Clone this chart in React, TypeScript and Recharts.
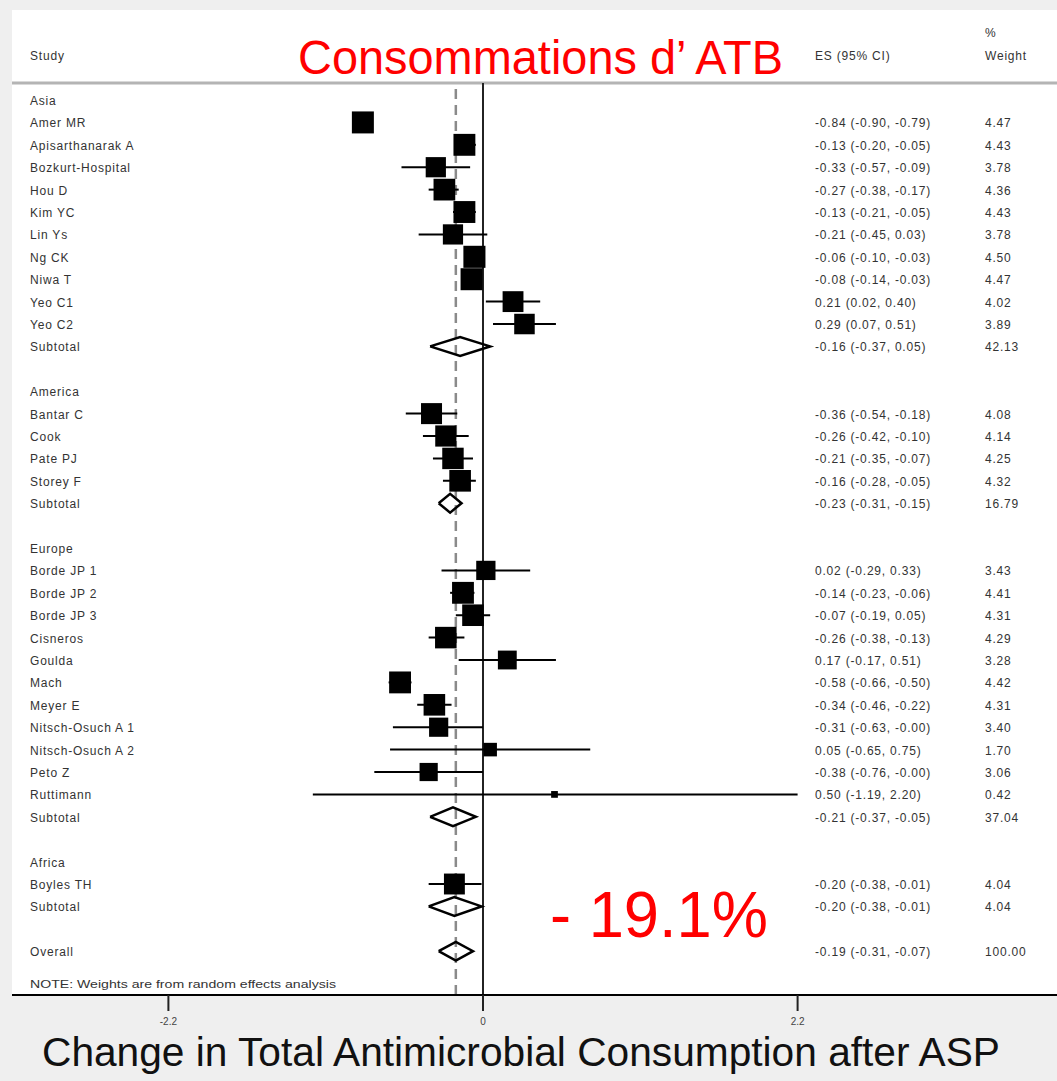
import React from 'react';
import { ComposedChart, Scatter, XAxis, YAxis, ErrorBar, ReferenceLine } from 'recharts';

// ---- data ----
const regions = ['Asia', 'America', 'Europe', 'Africa'];

const studyNames = [
  'Amer MR', 'Apisarthanarak A', 'Bozkurt-Hospital', 'Hou D', 'Kim YC', 'Lin Ys', 'Ng CK', 'Niwa T', 'Yeo C1', 'Yeo C2',
  'Bantar C', 'Cook', 'Pate PJ', 'Storey F',
  'Borde JP 1', 'Borde JP 2', 'Borde JP 3', 'Cisneros', 'Goulda', 'Mach', 'Meyer E', 'Nitsch-Osuch A 1', 'Nitsch-Osuch A 2', 'Peto Z', 'Ruttimann',
  'Boyles TH',
];
const studyRegion = [0, 0, 0, 0, 0, 0, 0, 0, 0, 0, 1, 1, 1, 1, 2, 2, 2, 2, 2, 2, 2, 2, 2, 2, 2, 3];
const studyEs = [-0.84, -0.13, -0.33, -0.27, -0.13, -0.21, -0.06, -0.08, 0.21, 0.29, -0.36, -0.26, -0.21, -0.16, 0.02, -0.14, -0.07, -0.26, 0.17, -0.58, -0.34, -0.31, 0.05, -0.38, 0.5, -0.2];
const studyLower = [-0.9, -0.2, -0.57, -0.38, -0.21, -0.45, -0.1, -0.14, 0.02, 0.07, -0.54, -0.42, -0.35, -0.28, -0.29, -0.23, -0.19, -0.38, -0.17, -0.66, -0.46, -0.63, -0.65, -0.76, -1.19, -0.38];
const studyUpper = [-0.79, -0.05, -0.09, -0.17, -0.05, 0.03, -0.03, -0.03, 0.4, 0.51, -0.18, -0.1, -0.07, -0.05, 0.33, -0.06, 0.05, -0.13, 0.51, -0.5, -0.22, -0, 0.75, -0, 2.2, -0.01];
const studyWeight = [4.47, 4.43, 3.78, 4.36, 4.43, 3.78, 4.5, 4.47, 4.02, 3.89, 4.08, 4.14, 4.25, 4.32, 3.43, 4.41, 4.31, 4.29, 3.28, 4.42, 4.31, 3.4, 1.7, 3.06, 0.42, 4.04];

const subtotalEs = [-0.16, -0.23, -0.21, -0.2];
const subtotalLower = [-0.37, -0.31, -0.37, -0.38];
const subtotalUpper = [0.05, -0.15, -0.05, -0.01];
const subtotalWeight = [42.13, 16.79, 37.04, 4.04];

const overallEs = -0.19;
const overallLower = -0.31;
const overallUpper = -0.07;
const overallWeight = 100.0;

const xTicks = [-2.2, 0, 2.2];

// ---- layout ----
const W = 1057;
const H = 1081;
const FONT = '"Liberation Sans", Arial, sans-serif';
const X_MIN = -3.2937;
const X_MAX = 4.014;
const Y_MIN = -0.76;
const Y_MAX = 39.955;
const COL_STUDY = 30;
const COL_ES = 815;
const COL_W = 985;
const SQUARE_K = 10.4;
const DIAMOND_HALF = 0.42;

type Row = {
  row: number;
  label: string;
  kind: 'region' | 'study' | 'subtotal' | 'overall';
  es?: number;
  lower?: number;
  upper?: number;
  weight?: number;
};

const rows: Row[] = [];
let r = 0;
regions.forEach((reg, g) => {
  rows.push({ row: r++, label: reg, kind: 'region' });
  studyNames.forEach((n, i) => {
    if (studyRegion[i] === g) {
      rows.push({ row: r++, label: n, kind: 'study', es: studyEs[i], lower: studyLower[i], upper: studyUpper[i], weight: studyWeight[i] });
    }
  });
  rows.push({ row: r++, label: 'Subtotal', kind: 'subtotal', es: subtotalEs[g], lower: subtotalLower[g], upper: subtotalUpper[g], weight: subtotalWeight[g] });
  r++; // blank line between groups
});
rows.push({ row: r, label: 'Overall', kind: 'overall', es: overallEs, lower: overallLower, upper: overallUpper, weight: overallWeight });

const rowMap = new Map(rows.map((d) => [d.row, d]));

const studyPoints = rows
  .filter((d) => d.kind === 'study')
  .map((d) => ({ x: d.es!, y: d.row, err: [d.es! - d.lower!, d.upper! - d.es!], weight: d.weight! }));

const diamonds = rows
  .filter((d) => d.kind === 'subtotal' || d.kind === 'overall')
  .map((d) => [
    { x: d.lower!, y: d.row },
    { x: d.es!, y: d.row - DIAMOND_HALF },
    { x: d.upper!, y: d.row },
    { x: d.es!, y: d.row + DIAMOND_HALF },
    { x: d.lower!, y: d.row },
  ]);

const fmt = (v: number) => (Object.is(v, -0) ? '-0.00' : v.toFixed(2));

const smallText = { fontFamily: FONT, fontSize: 12, fill: '#333', letterSpacing: 0.8 };

const RowTick = (props: any) => {
  const { y, payload } = props;
  const d = rowMap.get(payload.value);
  if (!d) return <g />;
  return (
    <g>
      <text x={COL_STUDY} y={y + 1} dominantBaseline="central" {...smallText}>{d.label}</text>
      {d.es !== undefined && (
        <text x={COL_ES} y={y + 1} dominantBaseline="central" {...smallText}>
          {`${fmt(d.es)} (${fmt(d.lower!)}, ${fmt(d.upper!)})`}
        </text>
      )}
      {d.weight !== undefined && (
        <text x={COL_W} y={y + 1} dominantBaseline="central" {...smallText}>{d.weight.toFixed(2)}</text>
      )}
    </g>
  );
};

const Square = (props: any) => {
  const { cx, cy, payload } = props;
  const s = SQUARE_K * Math.sqrt(payload.weight);
  return <rect x={cx - s / 2} y={cy - s / 2} width={s} height={s} fill="#000" />;
};

const NoDot = () => <g />;

export default function App() {
  return (
    <div style={{ position: 'absolute', left: 0, top: 0, width: W, height: H, background: '#efefef', overflow: 'hidden' }}>
      <div style={{ position: 'absolute', left: 12, top: 10, width: W - 12, height: 985, background: '#fff' }} />
      <div style={{ position: 'absolute', left: 0, top: 0 }}>
        <ComposedChart width={W} height={H} margin={{ top: 83, right: 0, bottom: 56, left: 11 }}>
          <XAxis
            dataKey="x"
            type="number"
            domain={[X_MIN, X_MAX]}
            ticks={xTicks}
            allowDataOverflow
            height={30}
            tickSize={16}
            tickMargin={7}
            axisLine={{ stroke: '#000', strokeWidth: 2 }}
            tickLine={{ stroke: '#222', strokeWidth: 2 }}
            tick={{ fontSize: 10, fill: '#444', fontFamily: FONT }}
          />
          <YAxis
            dataKey="y"
            type="number"
            domain={[Y_MIN, Y_MAX]}
            reversed
            allowDataOverflow
            ticks={rows.map((d) => d.row)}
            interval={0}
            tick={RowTick}
            axisLine={false}
            tickLine={false}
            width={1}
          />
          <ReferenceLine y={Y_MIN} stroke="#b4b4b4" strokeWidth={3} />
          <ReferenceLine x={overallEs} stroke="#8a8a8a" strokeWidth={2.5} strokeDasharray="10 6" />
          <ReferenceLine x={0} stroke="#222" strokeWidth={2} />
          {diamonds.map((pts, i) => (
            <Scatter
              key={`d${i}`}
              data={pts}
              line={{ stroke: '#000', strokeWidth: 2.5 }}
              lineJointType="linear"
              shape={NoDot}
              isAnimationActive={false}
            />
          ))}
          <Scatter data={studyPoints} shape={Square} isAnimationActive={false}>
            <ErrorBar dataKey="err" direction="x" width={0} stroke="#000" strokeWidth={2} isAnimationActive={false} />
          </Scatter>
        </ComposedChart>
      </div>
      <svg width={W} height={H} style={{ position: 'absolute', left: 0, top: 0, pointerEvents: 'none' }}>
        <text x={COL_STUDY} y={56} dominantBaseline="central" {...smallText}>Study</text>
        <text x={COL_ES} y={56} dominantBaseline="central" {...smallText}>ES (95% CI)</text>
        <text x={COL_W} y={33} dominantBaseline="central" {...smallText}>%</text>
        <text x={COL_W} y={56} dominantBaseline="central" {...smallText}>Weight</text>
        <text x={COL_STUDY} y={984} dominantBaseline="central" fontFamily={FONT} fontSize={11} fill="#333" textLength={306} lengthAdjust="spacingAndGlyphs">
          NOTE: Weights are from random effects analysis
        </text>
        <text x={298} y={74} fontFamily={FONT} fontSize={49} fill="#ff0000" textLength={485} lengthAdjust="spacingAndGlyphs">
          Consommations d’ ATB
        </text>
        <text x={550} y={937} fontFamily={FONT} fontSize={64} fill="#ff0000" textLength={218} lengthAdjust="spacingAndGlyphs">
          - 19.1%
        </text>
        <text x={42} y={1066} fontFamily={FONT} fontSize={41} fill="#111" textLength={958} lengthAdjust="spacingAndGlyphs">
          Change in Total Antimicrobial Consumption after ASP
        </text>
      </svg>
    </div>
  );
}
